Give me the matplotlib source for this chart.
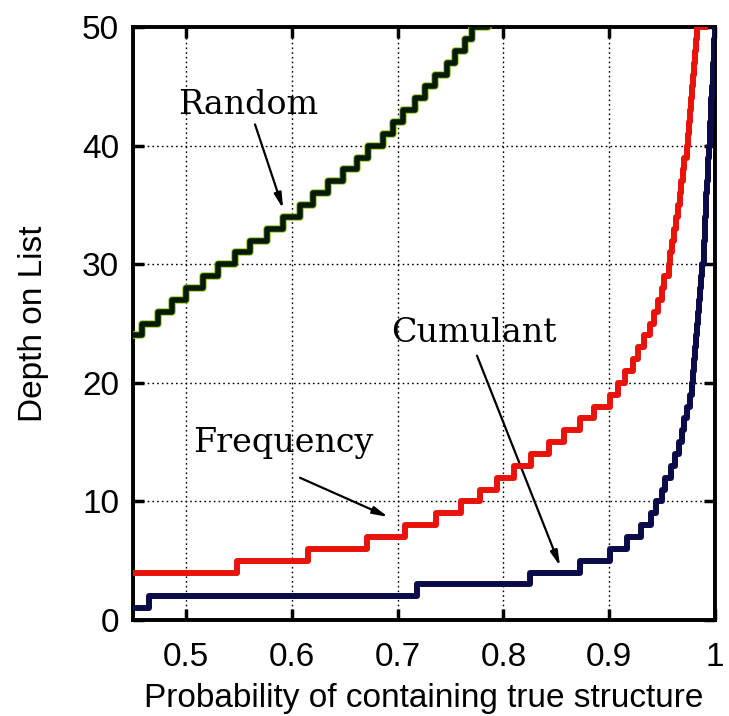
import numpy as np
import matplotlib.pyplot as plt

# step curves: x where depth rises to the next value
random_depth = [24, 25, 26, 27, 28, 29, 30, 31, 32, 33, 34, 35, 36, 37, 38,
                39, 40, 41, 42, 43, 44, 45, 46, 47, 48, 49, 50, 51]
random_prob = [0.450, 0.459, 0.474, 0.487, 0.500, 0.516, 0.530, 0.546, 0.561,
               0.577, 0.592, 0.608, 0.620, 0.634, 0.648, 0.662, 0.672, 0.686,
               0.696, 0.705, 0.716, 0.726, 0.735, 0.747, 0.754, 0.764, 0.770,
               0.785]

freq_depth = list(range(4, 51))
freq_prob = [0.450, 0.548, 0.615, 0.671, 0.707, 0.736, 0.760, 0.778, 0.794,
             0.810, 0.826, 0.843, 0.857, 0.872, 0.886, 0.901, 0.908, 0.915,
             0.922, 0.927, 0.933, 0.938, 0.942, 0.946, 0.950, 0.952, 0.956,
             0.957, 0.959, 0.961, 0.963, 0.965, 0.967, 0.968, 0.970, 0.971,
             0.973, 0.974, 0.975, 0.976, 0.977, 0.978, 0.979, 0.980, 0.981,
             0.982, 0.983]

cum_depth = list(range(1, 51))
cum_prob = [0.450, 0.465, 0.718, 0.825, 0.872, 0.901, 0.917, 0.930, 0.939,
            0.944, 0.950, 0.953, 0.958, 0.962, 0.966, 0.969, 0.971, 0.973,
            0.976, 0.978, 0.979, 0.980, 0.981, 0.982, 0.983, 0.984, 0.985,
            0.986, 0.987, 0.988, 0.989, 0.9895, 0.990, 0.9905, 0.991, 0.9917,
            0.9923, 0.993, 0.9937, 0.9943, 0.995, 0.9955, 0.996, 0.9965,
            0.997, 0.9975, 0.998, 0.9985, 0.999, 0.9995]

xticks = [0.5, 0.6, 0.7, 0.8, 0.9, 1.0]
xticklabels = ["0.5", "0.6", "0.7", "0.8", "0.9", "1"]
yticks = [0, 10, 20, 30, 40, 50]


def stairs(xs, ys, x_end):
    # extend last level to x_end so the step reaches the frame
    return list(xs) + [x_end], list(ys) + [ys[-1]]


plt.rcParams["font.family"] = ["Liberation Sans", "DejaVu Sans"]

fig = plt.figure(figsize=(7.29, 7.16), dpi=100)
ax = fig.add_axes([0.1824, 0.134, 0.7986, 0.828])

x, y = stairs(random_prob, random_depth, 0.80)
ax.step(x, y, where="post", color="#9acd32", lw=5.4, zorder=3)
ax.step(x, y, where="post", color="#071a07", lw=4.0, zorder=4)

x, y = stairs(freq_prob, freq_depth, 0.99)
ax.step(x, y, where="post", color="#e8140c", lw=4.3, zorder=4)

x, y = stairs(cum_prob, cum_depth, 1.0)
ax.step(x, y, where="post", color="#0b0b4a", lw=4.3, zorder=4)

ax.set_xlim(0.45, 1.0)
ax.set_ylim(0, 50)
ax.set_xticks(xticks)
ax.set_xticklabels(xticklabels)
ax.set_yticks(yticks)
ax.grid(True, color="black", linestyle=(0, (1.2, 2.2)), lw=1.0)
ax.tick_params(direction="in", length=8, width=2.5, labelsize=24,
               top=True, right=True)
ax.tick_params(axis="x", pad=16)
ax.tick_params(axis="y", pad=10)
for s in ax.spines.values():
    s.set_linewidth(2.8)

ax.set_xlabel("Probability of containing true structure", fontsize=24, labelpad=7)
ax.set_ylabel("Depth on List", fontsize=24, labelpad=24)

arrow = dict(arrowstyle="-|>,head_width=0.22,head_length=0.9", color="black",
             lw=1.6, shrinkA=0, shrinkB=0)
txt = dict(fontsize=24, family="DejaVu Serif", ha="center", va="center")
ax.annotate("", xy=(0.5918, 34.7), xytext=(0.5653, 41.8), arrowprops=arrow)
ax.text(0.5587, 43.4, "Random", **txt)
ax.annotate("", xy=(0.691, 8.7), xytext=(0.6078, 12.0), arrowprops=arrow)
ax.text(0.5918, 14.9, "Frequency", **txt)
ax.annotate("", xy=(0.8535, 4.55), xytext=(0.775, 22.3), arrowprops=arrow)
ax.text(0.7722, 24.2, "Cumulant", **txt)

fig.savefig("out.png", dpi=100)
